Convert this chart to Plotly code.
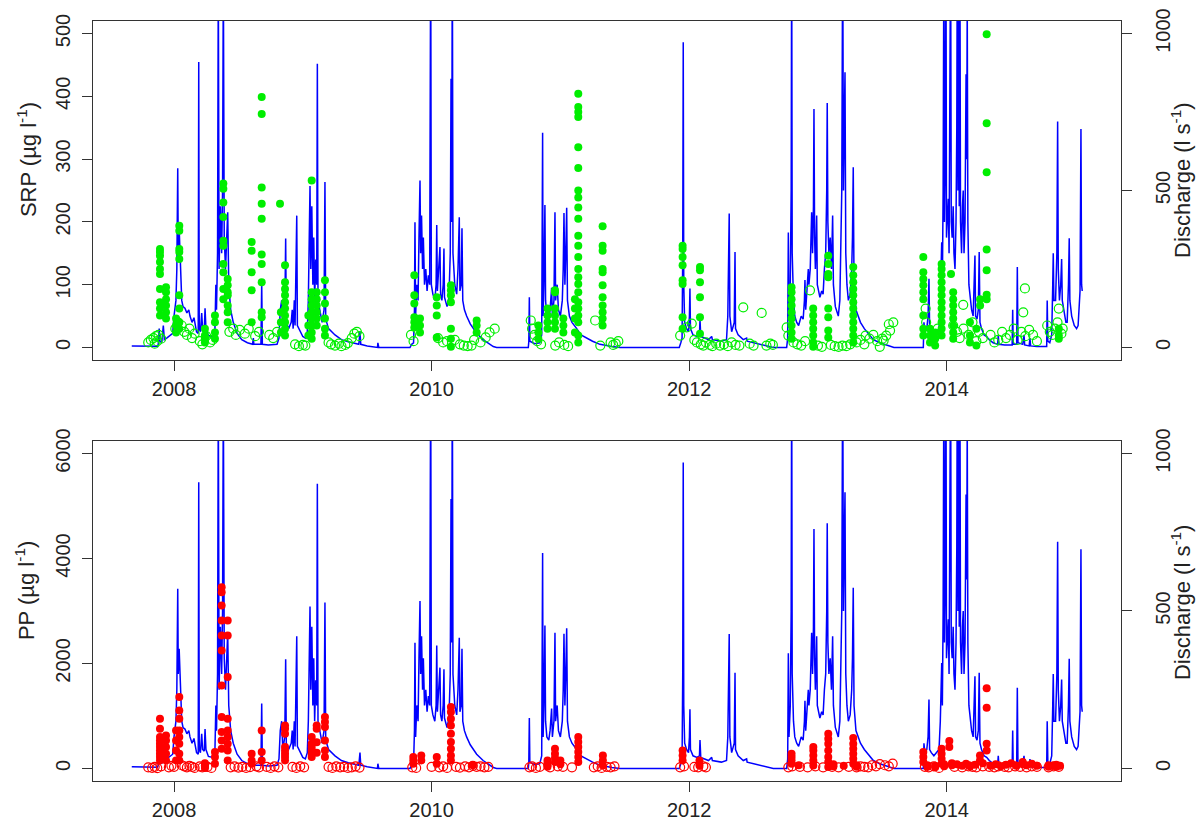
import plotly.graph_objects as go

# ---------------- discharge (l s-1), by season ----------------
season_2007_09 = [
    (2007.672, 5), (2007.80, 3), (2007.87, 4), (2007.878, 10), (2007.885, 60), (2007.891, 20),
    (2007.905, 15), (2007.917, 70), (2007.925, 25), (2007.943, 30), (2007.990, 45), (2008.000, 100),
    (2008.015, 150), (2008.022, 250), (2008.029, 571), (2008.033, 300), (2008.040, 380), (2008.047, 300),
    (2008.053, 200), (2008.060, 150), (2008.070, 130), (2008.085, 125), (2008.100, 110), (2008.115, 120),
    (2008.124, 100), (2008.140, 80), (2008.155, 95), (2008.163, 70), (2008.175, 50), (2008.188, 45),
    (2008.192, 909), (2008.196, 60), (2008.205, 50), (2008.215, 110), (2008.222, 60), (2008.235, 55),
    (2008.241, 125), (2008.248, 60), (2008.267, 38), (2008.300, 35), (2008.318, 60), (2008.325, 200),
    (2008.330, 120), (2008.338, 300), (2008.344, 1200), (2008.350, 250), (2008.360, 450), (2008.370, 300),
    (2008.377, 500), (2008.383, 1200), (2008.390, 350), (2008.400, 250), (2008.410, 380), (2008.417, 431),
    (2008.425, 200), (2008.440, 120), (2008.460, 80), (2008.490, 45), (2008.526, 25), (2008.570, 15),
    (2008.610, 10), (2008.616, 30), (2008.620, 10), (2008.675, 10), (2008.681, 206), (2008.686, 10),
    (2008.732, 8), (2008.800, 10), (2008.815, 30), (2008.825, 120), (2008.836, 150), (2008.845, 60),
    (2008.860, 100), (2008.867, 347), (2008.872, 80), (2008.890, 60), (2008.910, 80), (2008.918, 120),
    (2008.925, 60), (2008.934, 150), (2008.940, 70), (2008.953, 420), (2008.958, 70), (2008.980, 50),
    (2009.000, 35), (2009.020, 30), (2009.035, 50), (2009.043, 150), (2009.050, 300), (2009.056, 514),
    (2009.062, 250), (2009.070, 450), (2009.078, 200), (2009.085, 350), (2009.092, 150), (2009.100, 280),
    (2009.108, 200), (2009.113, 904), (2009.118, 150), (2009.130, 120), (2009.150, 80), (2009.165, 120),
    (2009.172, 527), (2009.178, 90), (2009.200, 60), (2009.250, 40), (2009.300, 25), (2009.353, 18),
    (2009.400, 12), (2009.435, 10), (2009.444, 50), (2009.450, 10), (2009.500, 5), (2009.560, 3),
]
season_2009_10 = [
    (2009.580, 0), (2009.583, 15), (2009.590, 0), (2009.832, 0), (2009.845, 10), (2009.860, 15),
    (2009.867, 120), (2009.871, 399), (2009.876, 100), (2009.885, 200), (2009.895, 150), (2009.902, 350),
    (2009.910, 532), (2009.915, 300), (2009.922, 420), (2009.930, 250), (2009.936, 350), (2009.945, 200),
    (2009.955, 250), (2009.965, 180), (2009.975, 230), (2009.985, 200), (2009.993, 1300), (2009.998, 200),
    (2010.010, 170), (2010.025, 150), (2010.035, 200), (2010.040, 390), (2010.045, 180), (2010.055, 250),
    (2010.065, 320), (2010.070, 170), (2010.080, 150), (2010.090, 200), (2010.096, 315), (2010.100, 160),
    (2010.120, 130), (2010.135, 160), (2010.145, 300), (2010.151, 856), (2010.156, 400), (2010.161, 1300),
    (2010.166, 300), (2010.180, 200), (2010.195, 170), (2010.205, 250), (2010.215, 415), (2010.220, 180),
    (2010.230, 200), (2010.236, 380), (2010.242, 150), (2010.255, 120), (2010.272, 100), (2010.300, 75),
    (2010.350, 45), (2010.400, 25), (2010.450, 10), (2010.479, 3), (2010.505, 0),
]
season_2010_11 = [
    (2010.751, 0), (2010.755, 20), (2010.759, 160), (2010.763, 20), (2010.800, 12), (2010.840, 15),
    (2010.855, 40), (2010.862, 684), (2010.866, 100), (2010.872, 200), (2010.880, 454), (2010.885, 150),
    (2010.895, 100), (2010.910, 90), (2010.920, 120), (2010.932, 190), (2010.938, 100), (2010.950, 150),
    (2010.958, 431), (2010.963, 150), (2010.975, 200), (2010.985, 120), (2011.000, 100), (2011.015, 150),
    (2011.022, 250), (2011.028, 428), (2011.035, 200), (2011.042, 300), (2011.049, 445), (2011.055, 150),
    (2011.070, 100), (2011.090, 80), (2011.110, 70), (2011.127, 60), (2011.160, 40), (2011.200, 30),
    (2011.250, 20), (2011.307, 10), (2011.360, 5), (2011.400, 3), (2011.463, 0),
]
season_2011_12 = [
    (2011.923, 0), (2011.935, 15), (2011.945, 30), (2011.950, 300), (2011.954, 972), (2011.958, 200),
    (2011.965, 80), (2011.980, 60), (2011.995, 50), (2012.002, 100), (2012.006, 188), (2012.010, 60),
    (2012.030, 40), (2012.060, 35), (2012.080, 40), (2012.084, 90), (2012.090, 35), (2012.120, 30),
    (2012.150, 25), (2012.175, 35), (2012.180, 25), (2012.250, 20), (2012.290, 25), (2012.300, 100),
    (2012.307, 250), (2012.311, 427), (2012.316, 100), (2012.330, 50), (2012.350, 80), (2012.356, 304),
    (2012.360, 60), (2012.380, 40), (2012.420, 25), (2012.446, 30), (2012.450, 20), (2012.500, 15),
    (2012.550, 10), (2012.600, 5), (2012.653, 0),
]
season_2012_13 = [
    (2012.757, 0), (2012.765, 30), (2012.770, 366), (2012.775, 100), (2012.785, 200), (2012.792, 500),
    (2012.796, 1300), (2012.800, 300), (2012.810, 150), (2012.820, 100), (2012.835, 80), (2012.850, 70),
    (2012.870, 100), (2012.885, 90), (2012.895, 150), (2012.899, 215), (2012.905, 120), (2012.915, 180),
    (2012.925, 250), (2012.930, 200), (2012.940, 250), (2012.951, 431), (2012.958, 300), (2012.965, 450),
    (2012.969, 760), (2012.974, 350), (2012.980, 250), (2012.990, 420), (2012.995, 200), (2013.005, 180),
    (2013.015, 160), (2013.029, 180), (2013.040, 170), (2013.050, 250), (2013.060, 300), (2013.068, 500),
    (2013.072, 779), (2013.077, 400), (2013.085, 300), (2013.095, 350), (2013.105, 250), (2013.114, 420),
    (2013.120, 200), (2013.135, 130), (2013.150, 110), (2013.158, 100), (2013.170, 150), (2013.185, 500),
    (2013.192, 1300), (2013.198, 500), (2013.204, 700), (2013.210, 877), (2013.216, 300), (2013.225, 200),
    (2013.236, 150), (2013.250, 170), (2013.262, 250), (2013.268, 350), (2013.274, 574), (2013.280, 200),
    (2013.295, 120), (2013.310, 100), (2013.330, 80), (2013.360, 60), (2013.400, 40), (2013.430, 25),
    (2013.480, 15), (2013.520, 10), (2013.559, 5), (2013.585, 3), (2013.590, 0),
]
season_2013_15 = [
    (2013.818, 0), (2013.823, 80), (2013.830, 50), (2013.845, 60), (2013.855, 100), (2013.862, 219),
    (2013.867, 60), (2013.880, 50), (2013.900, 40), (2013.920, 50), (2013.940, 60), (2013.950, 150),
    (2013.957, 250), (2013.961, 335), (2013.966, 200), (2013.972, 500), (2013.978, 1300), (2013.982, 400),
    (2013.988, 600), (2013.994, 1300), (2013.998, 350), (2014.005, 400), (2014.012, 474), (2014.018, 300),
    (2014.024, 700), (2014.030, 1300), (2014.035, 400), (2014.042, 350), (2014.050, 450), (2014.056, 300),
    (2014.064, 250), (2014.072, 400), (2014.078, 700), (2014.082, 1300), (2014.087, 500), (2014.092, 1300),
    (2014.097, 450), (2014.102, 1300), (2014.107, 400), (2014.115, 300), (2014.122, 450), (2014.128, 500),
    (2014.134, 300), (2014.142, 400), (2014.150, 870), (2014.155, 600), (2014.159, 1100), (2014.164, 400),
    (2014.172, 200), (2014.182, 150), (2014.193, 120), (2014.205, 100), (2014.212, 200), (2014.219, 293),
    (2014.224, 100), (2014.235, 90), (2014.245, 120), (2014.252, 304), (2014.258, 80), (2014.270, 60),
    (2014.290, 40), (2014.310, 35), (2014.330, 25), (2014.360, 15), (2014.395, 10), (2014.400, 40),
    (2014.405, 10), (2014.450, 8), (2014.508, 8), (2014.512, 120), (2014.516, 10), (2014.543, 10),
    (2014.548, 256), (2014.553, 15), (2014.590, 10), (2014.600, 40), (2014.605, 8), (2014.640, 5),
    (2014.646, 30), (2014.651, 5), (2014.700, 3), (2014.776, 3), (2014.780, 150), (2014.785, 20),
    (2014.800, 15), (2014.815, 40), (2014.823, 200), (2014.827, 300), (2014.832, 150), (2014.845, 150),
    (2014.855, 300), (2014.861, 720), (2014.866, 250), (2014.875, 150), (2014.885, 200), (2014.892, 282),
    (2014.897, 150), (2014.910, 110), (2014.925, 80), (2014.935, 80), (2014.945, 200), (2014.951, 348),
    (2014.956, 150), (2014.970, 100), (2014.990, 70), (2015.008, 60), (2015.020, 70), (2015.035, 180),
    (2015.042, 696), (2015.047, 200), (2015.052, 180),
]

# ---------------- SRP (ug l-1): storm samples (filled) and grab samples (open) ----------------
srp_filled = [
    (2007.891, [157, 152, 146, 136, 125, 117, 93, 72, 62, 51]),
    (2007.938, [96, 88, 77, 67, 56, 46]),
    (2008.016, [46, 35, 24]),
    (2008.041, [194, 186, 157, 152, 141, 83, 62, 40, 30]),
    (2008.240, [30, 19, 14, 8]),
    (2008.318, [51, 40, 24, 14]),
    (2008.383, [261, 253, 231, 208, 170, 162, 133, 120, 93, 77]),
    (2008.417, [109, 99, 88, 83, 67, 56, 40]),
    (2008.603, [168, 154, 120, 91, 40]),
    (2008.681, [399, 372, 255, 229, 205, 148, 133, 104, 56, 48]),
    (2008.823, [229]),
    (2008.830, [56, 40, 24]),
    (2008.862, [131, 104, 93, 83, 72, 62, 51, 40, 30, 19]),
    (2009.043, [51, 35, 19]),
    (2009.069, [266, 88, 77, 67, 56, 46, 35, 24, 14]),
    (2009.108, [88, 77, 67, 56, 46, 35]),
    (2009.172, [107, 88, 70, 46, 30, 19]),
    (2009.866, [115, 83, 70, 48, 40, 32]),
    (2009.910, [46, 35, 24]),
    (2010.040, [80, 67, 51, 16]),
    (2010.150, [99, 91, 83, 72, 30, 14, 1]),
    (2010.350, [43, 35, 24]),
    (2010.829, [35, 24, 14]),
    (2010.900, [62, 51, 40, 30]),
    (2010.958, [91, 88, 62, 51, 40, 30]),
    (2011.023, [46, 35, 24]),
    (2011.113, [77, 62, 46, 24]),
    (2011.139, [404, 383, 375, 367, 319, 286, 250, 239, 223, 205, 178, 162, 144, 125, 112, 101, 88, 72,
                62, 51, 40, 19, 8]),
    (2011.328, [193, 162, 154, 125, 120, 99, 80, 67, 56, 46, 35]),
    (2011.949, [162, 157, 144, 131, 107, 101, 48, 30]),
    (2012.084, [128, 123, 104, 80, 48, 22]),
    (2012.795, [96, 88, 77, 67, 56, 46, 35, 24, 14]),
    (2012.963, [62, 51, 40, 30, 19, 8, 1]),
    (2013.080, [146, 133, 117, 112, 62, 48, 27, 16]),
    (2013.274, [128, 115, 104, 93, 83, 72, 62, 51, 40, 30, 19, 8]),
    (2013.818, [144, 120, 109, 99, 88, 77, 51, 30, 19]),
    (2013.870, [30, 19, 8]),
    (2013.910, [14, 24, 3]),
    (2013.960, [133, 125, 115, 104, 93, 83, 72, 62, 51, 40, 30, 19]),
    (2014.033, [117]),
    (2014.050, [88, 77, 67, 56, 46, 35, 24, 14]),
    (2014.180, [40, 19, 8]),
    (2014.230, [30, 3]),
    (2014.259, [77, 67]),
    (2014.310, [499, 357, 279, 156, 123, 84, 77]),
    (2014.870, [30, 19, 14]),
]
srp_open = [
    (2007.80, 8), (2007.82, 12), (2007.84, 15), (2007.85, 6), (2007.86, 18), (2007.87, 10), (2007.88, 20),
    (2007.90, 14), (2008.01, 30), (2008.03, 40), (2008.06, 35), (2008.08, 25), (2008.10, 20), (2008.12, 30),
    (2008.14, 15), (2008.16, 22), (2008.20, 10), (2008.22, 5), (2008.25, 18), (2008.28, 8), (2008.30, 12),
    (2008.43, 25), (2008.46, 30), (2008.48, 20), (2008.51, 28), (2008.55, 22), (2008.58, 30), (2008.63, 18),
    (2008.66, 25), (2008.74, 20), (2008.77, 15), (2008.80, 25), (2008.94, 5), (2008.97, 2), (2009.00, 4),
    (2009.02, 3), (2009.20, 8), (2009.22, 5), (2009.25, 3), (2009.28, 6), (2009.30, 2), (2009.33, 4),
    (2009.35, 7), (2009.38, 15), (2009.40, 22), (2009.42, 25), (2009.44, 18),
    (2009.84, 20), (2009.86, 10), (2010.05, 15), (2010.09, 8), (2010.12, 10), (2010.18, 12), (2010.22, 5),
    (2010.25, 3), (2010.28, 2), (2010.31, 3), (2010.33, 12), (2010.38, 8), (2010.42, 16), (2010.45, 24),
    (2010.49, 30), (2010.77, 43), (2010.78, 30), (2010.80, 20), (2010.82, 10), (2010.85, 5), (2010.96, 3),
    (2010.99, 8), (2011.03, 4), (2011.06, 2), (2011.27, 43), (2011.31, 3), (2011.39, 8), (2011.41, 4),
    (2011.43, 6), (2011.45, 10),
    (2011.93, 19), (2011.98, 32), (2012.02, 38), (2012.04, 12), (2012.06, 8), (2012.09, 5), (2012.11, 3),
    (2012.13, 8), (2012.16, 4), (2012.18, 2), (2012.21, 6), (2012.24, 3), (2012.27, 5), (2012.30, 2),
    (2012.33, 8), (2012.36, 4), (2012.39, 3), (2012.42, 64), (2012.47, 6), (2012.50, 3), (2012.563, 55),
    (2012.60, 3), (2012.63, 6), (2012.65, 4),
    (2012.757, 32), (2012.77, 19), (2012.81, 8), (2012.84, 5), (2012.87, 3), (2012.90, 10), (2012.938, 91),
    (2013.00, 3), (2013.03, 1), (2013.10, 4), (2013.13, 2), (2013.16, 1), (2013.19, 3), (2013.22, 2),
    (2013.25, 5), (2013.30, 8), (2013.33, 12), (2013.36, 5), (2013.37, 19), (2013.40, 14), (2013.43, 20),
    (2013.46, 10), (2013.48, 1), (2013.50, 14), (2013.51, 11), (2013.53, 19), (2013.55, 37), (2013.56, 27),
    (2013.585, 40),
    (2013.836, 62), (2013.84, 40), (2013.87, 25), (2013.90, 20), (2013.93, 30), (2014.05, 35), (2014.08, 25),
    (2014.10, 15), (2014.128, 68), (2014.13, 30), (2014.17, 20), (2014.20, 40), (2014.23, 10), (2014.25, 25),
    (2014.28, 15), (2014.34, 20), (2014.37, 8), (2014.40, 12), (2014.43, 25), (2014.46, 15), (2014.49, 20),
    (2014.52, 30), (2014.55, 12), (2014.58, 25), (2014.594, 56), (2014.607, 94), (2014.61, 18), (2014.64, 28),
    (2014.67, 20), (2014.70, 10), (2014.78, 35), (2014.80, 25), (2014.82, 20), (2014.84, 30), (2014.86, 40),
    (2014.87, 62), (2014.89, 22), (2014.90, 30),
]

# ---------------- PP (ug l-1) ----------------
pp_filled = [
    (2007.891, [946, 756, 597, 533, 470, 406, 343, 279, 216, 152]),
    (2007.938, [629, 533, 406, 279, 152]),
    (2008.016, [724, 533, 343, 152]),
    (2008.041, [1359, 1105, 946, 724, 597, 470, 279, 152]),
    (2008.240, [100, 60, 30, 10]),
    (2008.318, [311, 216, 89]),
    (2008.370, [3454, 3359, 3105, 2819, 2533, 2248, 1581, 978, 692, 533, 375]),
    (2008.417, [2819, 2533, 1740, 946, 724, 597, 470, 343, 152]),
    (2008.603, [279, 152, 89]),
    (2008.681, [724, 311, 152]),
    (2008.862, [819, 756, 660, 406, 343, 279, 216, 152]),
    (2009.069, [597, 470, 406, 343, 279, 216]),
    (2009.108, [819, 756, 500, 300]),
    (2009.172, [978, 883, 787, 533, 343, 216]),
    (2009.858, [216, 152, 89]),
    (2009.920, [248, 152]),
    (2010.040, [216, 89]),
    (2010.150, [1168, 1073, 946, 819, 660, 502, 375, 248, 152]),
    (2010.320, [60]),
    (2010.900, [150, 100, 60, 30]),
    (2010.958, [375, 279, 200, 120]),
    (2011.000, [150, 80]),
    (2011.139, [597, 502, 406, 311, 216, 121]),
    (2011.330, [248, 152, 57]),
    (2011.949, [343, 248, 152]),
    (2012.080, [152, 57]),
    (2012.795, [279, 216, 152, 89]),
    (2012.850, [60]),
    (2012.964, [406, 343, 248, 152, 57]),
    (2013.080, [660, 565, 470, 343, 216, 121, 25]),
    (2013.120, [80, 40]),
    (2013.200, [50]),
    (2013.274, [578, 470, 375, 279, 184, 89]),
    (2013.300, [60, 30]),
    (2013.818, [311, 216, 121]),
    (2013.850, [60, 30]),
    (2013.910, [50, 20]),
    (2013.960, [375, 279, 184, 89]),
    (2013.980, [80, 40]),
    (2014.020, [521, 406]),
    (2014.040, [100, 60]),
    (2014.080, [80]),
    (2014.120, [50]),
    (2014.150, [90]),
    (2014.180, [40]),
    (2014.220, [70]),
    (2014.258, [248, 152]),
    (2014.280, [100]),
    (2014.310, [1530, 1156, 470, 343]),
    (2014.340, [50]),
    (2014.380, [80]),
    (2014.420, [40]),
    (2014.460, [70]),
    (2014.500, [100]),
    (2014.540, [50]),
    (2014.590, [121, 80]),
    (2014.620, [60]),
    (2014.660, [90]),
    (2014.700, [50]),
    (2014.790, [60, 30]),
    (2014.820, [50]),
    (2014.850, [70, 30]),
    (2014.880, [50]),
]
pp_open = [
    (2007.80, 20), (2007.83, 10), (2007.85, 30), (2007.87, 5), (2007.90, 40), (2007.96, 20), (2007.98, 50),
    (2008.00, 30), (2008.06, 60), (2008.08, 40), (2008.10, 20), (2008.12, 50), (2008.14, 30), (2008.16, 10),
    (2008.20, 40), (2008.22, 20), (2008.26, 30), (2008.29, 10), (2008.44, 20), (2008.47, 40), (2008.50, 15),
    (2008.53, 30), (2008.56, 10), (2008.59, 25), (2008.64, 40), (2008.66, 20), (2008.72, 30), (2008.75, 10),
    (2008.78, 40), (2008.81, 20), (2008.92, 30), (2008.95, 10), (2008.98, 40), (2009.01, 20), (2009.20, 30),
    (2009.23, 10), (2009.26, 40), (2009.29, 20), (2009.32, 30), (2009.35, 10), (2009.38, 20), (2009.41, 40),
    (2009.44, 15),
    (2009.85, 20), (2009.88, 10), (2010.00, 30), (2010.06, 20), (2010.09, 40), (2010.12, 10), (2010.19, 30),
    (2010.22, 15), (2010.26, 40), (2010.29, 20), (2010.32, 50), (2010.35, 30), (2010.38, 40), (2010.41, 20),
    (2010.44, 30),
    (2010.76, 20), (2010.78, 40), (2010.81, 10), (2010.84, 30), (2010.92, 20), (2010.98, 40), (2011.02, 30),
    (2011.09, 20), (2011.26, 20), (2011.29, 40), (2011.32, 10), (2011.36, 30), (2011.39, 20), (2011.42, 40),
    (2011.93, 20), (2011.96, 40), (2012.04, 30), (2012.07, 20), (2012.11, 40), (2012.13, 20),
    (2012.77, 20), (2012.80, 40), (2012.86, 30), (2012.92, 20), (2012.98, 40), (2013.04, 20), (2013.11, 30),
    (2013.16, 20), (2013.24, 30), (2013.30, 20), (2013.33, 40), (2013.36, 30), (2013.39, 20), (2013.42, 60),
    (2013.45, 40), (2013.48, 80), (2013.52, 60), (2013.55, 40), (2013.58, 90),
    (2013.83, 30), (2013.86, 20), (2013.90, 40), (2013.94, 10), (2014.06, 30), (2014.12, 20), (2014.17, 40),
    (2014.20, 30), (2014.23, 20), (2014.28, 40), (2014.33, 30), (2014.37, 20), (2014.40, 40), (2014.45, 30),
    (2014.48, 20), (2014.53, 40), (2014.57, 30), (2014.62, 20), (2014.66, 40), (2014.70, 30), (2014.79, 20),
    (2014.83, 40), (2014.87, 30),
]

year_ticks = [2008, 2010, 2012, 2014]
srp_ticks = [0, 100, 200, 300, 400, 500]
pp_ticks = [0, 2000, 4000, 6000]
q_ticks = [0, 500, 1000]

# ---------------- build ----------------
discharge = season_2007_09 + season_2009_10 + season_2010_11 + season_2011_12 + season_2012_13 + season_2013_15
q_x = [p[0] for p in discharge]
q_y = [p[1] for p in discharge]


def expand(groups):
    xs, ys = [], []
    for yr, vals in groups:
        for v in vals:
            xs.append(yr)
            ys.append(v)
    return xs, ys


srpf_x, srpf_y = expand(srp_filled)
ppf_x, ppf_y = expand(pp_filled)
srpo_x = [p[0] for p in srp_open]
srpo_y = [p[1] for p in srp_open]
ppo_x = [p[0] for p in pp_open]
ppo_y = [p[1] for p in pp_open]

BLUE = "#0000FF"
GREEN = "#00EE00"
RED = "#FF0000"
AX = "#333333"
FONT = "Liberation Sans, Arial, sans-serif"

fig = go.Figure()
for xa, ya in (("x", "y"), ("x2", "y3")):
    fig.add_trace(go.Scatter(x=q_x, y=q_y, mode="lines", line=dict(color=BLUE, width=1.5),
                             xaxis=xa, yaxis=ya, showlegend=False, hoverinfo="skip"))

fig.add_trace(go.Scatter(x=srpo_x, y=srpo_y, mode="markers", xaxis="x", yaxis="y2",
                         marker=dict(symbol="circle-open", size=9, color=GREEN, line=dict(width=1.2, color=GREEN)),
                         showlegend=False))
fig.add_trace(go.Scatter(x=srpf_x, y=srpf_y, mode="markers", xaxis="x", yaxis="y2",
                         marker=dict(symbol="circle", size=8, color=GREEN, line=dict(width=0)),
                         showlegend=False))
fig.add_trace(go.Scatter(x=ppo_x, y=ppo_y, mode="markers", xaxis="x2", yaxis="y4",
                         marker=dict(symbol="circle-open", size=9, color=RED, line=dict(width=1.2, color=RED)),
                         showlegend=False))
fig.add_trace(go.Scatter(x=ppf_x, y=ppf_y, mode="markers", xaxis="x2", yaxis="y4",
                         marker=dict(symbol="circle", size=8, color=RED, line=dict(width=0)),
                         showlegend=False))

tickfont = dict(family=FONT, size=20, color="#222222")
xcommon = dict(range=[2007.371, 2015.353], tickmode="array", tickvals=year_ticks,
               ticktext=[str(v) for v in year_ticks], ticks="outside", ticklen=10, tickcolor=AX,
               showline=True, linecolor=AX, linewidth=1.3, mirror=True, showgrid=False, zeroline=False,
               tickfont=tickfont, ticklabelstandoff=1, automargin=False)
ycommon = dict(ticks="outside", ticklen=10, tickcolor=AX, showgrid=False, zeroline=False,
               tickfont=tickfont, tickangle=-90, tickmode="array", automargin=False)

fig.update_layout(
    width=1204, height=825,
    margin=dict(l=93, r=83, t=21, b=44),
    paper_bgcolor="white", plot_bgcolor="white",
    font=dict(family=FONT, color="#222222"),
    xaxis=dict(domain=[0, 1], anchor="y", **xcommon),
    xaxis2=dict(domain=[0, 1], anchor="y3", **xcommon),
    yaxis=dict(domain=[0.5539, 1], anchor="x", range=[-40, 1040], side="right", tickvals=q_ticks,
               showline=True, linecolor=AX, linewidth=1.3, mirror=True, ticklabelstandoff=14, **ycommon),
    yaxis2=dict(overlaying="y", anchor="x", range=[-20, 520], side="left", tickvals=srp_ticks,
                showline=False, ticklabelstandoff=4, **ycommon),
    yaxis3=dict(domain=[0, 0.4474], anchor="x2", range=[-40, 1040], side="right", tickvals=q_ticks,
                showline=True, linecolor=AX, linewidth=1.3, mirror=True, ticklabelstandoff=14, **ycommon),
    yaxis4=dict(overlaying="y3", anchor="x2", range=[-240, 6240], side="left", tickvals=pp_ticks,
                showline=False, ticklabelstandoff=4, **ycommon),
)

title_font = dict(family=FONT, size=22, color="#222222")
for txt, x, y in (("SRP (µg l<sup>-1</sup>)", -0.0642, 0.817),
                  ("Discharge (l s<sup>-1</sup>)", 1.0584, 0.791),
                  ("PP (µg l<sup>-1</sup>)", -0.0661, 0.25),
                  ("Discharge (l s<sup>-1</sup>)", 1.0584, 0.2355)):
    fig.add_annotation(text=txt, x=x, y=y, xref="paper", yref="paper", showarrow=False,
                       textangle=-90, xanchor="center", yanchor="middle", font=title_font)

# remove the browser's default 8px page margin so the figure fills the window exactly
fig.write_html("out.html", config={"displayModeBar": False},
               post_script="document.body.style.margin='0';")
